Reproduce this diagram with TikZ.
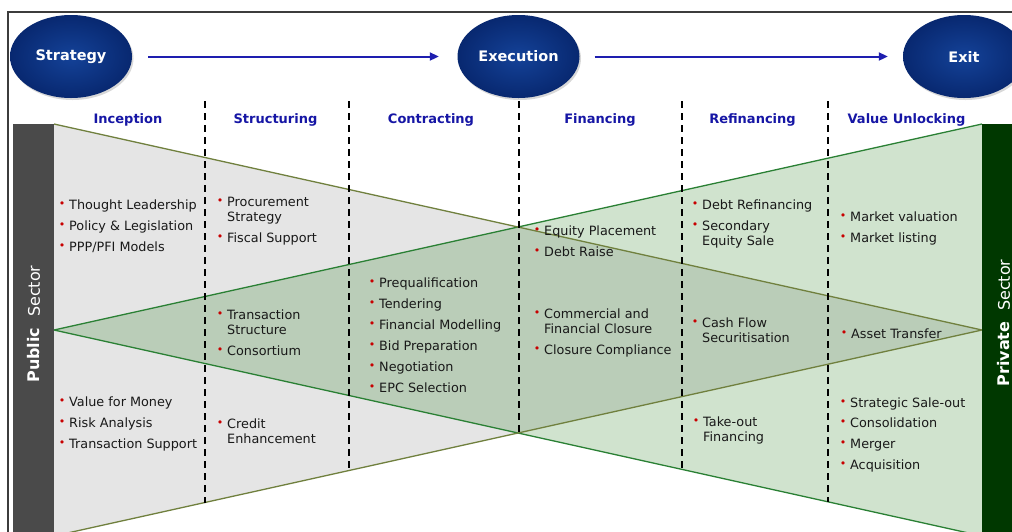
\documentclass[tikz,border=0pt]{standalone}
\usepackage{fontspec}
\setmainfont{DejaVu Sans}
\usetikzlibrary{shapes.geometric,arrows.meta,shadows}
\definecolor{hdrblue}{RGB}{22,22,165}
\definecolor{arrblue}{RGB}{30,30,175}
\definecolor{ellin}{RGB}{20,66,152}
\definecolor{ellout}{RGB}{8,40,112}
\definecolor{pubgray}{RGB}{74,74,74}
\definecolor{privgreen}{RGB}{0,56,0}
\definecolor{trigray}{RGB}{229,229,229}
\definecolor{trigreen}{RGB}{208,227,206}
\definecolor{trimix}{RGB}{186,205,184}
\definecolor{edgeolive}{RGB}{112,128,62}
\definecolor{edgegreen}{RGB}{42,128,52}
\definecolor{bulred}{RGB}{200,0,0}
\definecolor{txtblack}{RGB}{25,25,25}
\definecolor{framegray}{RGB}{60,60,60}
\newcommand{\bt}{\makebox[10.25pt][l]{\raisebox{1.2pt}{\textcolor{bulred}{\fontsize{11}{11}\selectfont •}}}}
\newcommand{\itm}[4]{\node[itemtxt] (#1) at (#2-3.25,#3) {\bt #4};}
\newcommand{\cnt}[4]{\node[itemtxt] (#1) at (#2+7,#3) {#4};}
\begin{document}
\begin{tikzpicture}[x=1pt,y=-1pt,
  hdr/.style={font=\fontsize{13}{15}\selectfont\bfseries, text=hdrblue, anchor=base, inner sep=0pt},
  itemtxt/.style={font=\fontsize{12.8}{15}\selectfont, text=txtblack, anchor=base west, inner sep=0pt},
  phase/.style={ellipse, minimum width=122pt, minimum height=83pt, inner sep=0pt,
    inner color=ellin, outer color=ellout, text=white,
    font=\fontsize{14.5}{16}\selectfont\bfseries,
    drop shadow={opacity=0.3, shadow xshift=1.5pt, shadow yshift=-2pt}},
  arr/.style={draw=arrblue, line width=2pt, -{Triangle[length=9pt,width=8pt]}},
  divider/.style={draw=black, line width=2pt, dash pattern=on 7pt off 5pt},
  sidetxt/.style={rotate=90, text=white, font=\fontsize{16}{18}\selectfont, inner sep=0pt}
]
\clip (0,0) rectangle (1012,531);
\fill[white] (0,0) rectangle (1012,531);
% triangles
\fill[trigray] (54,124) -- (982,330) -- (54,536) -- cycle;
\fill[trigreen] (982,124) -- (54,330) -- (982,536) -- cycle;
\fill[trimix] (54,330) -- (518,227) -- (982,330) -- (518,433) -- cycle;
\draw[edgegreen, line width=1.3pt] (982,124) -- (54,330) -- (982,536);
\draw[edgeolive, line width=1.3pt] (54,124) -- (982,330) -- (54,536);
% sidebars
\fill[pubgray] (13,124) rectangle (54,545);
\fill[privgreen] (982,124) rectangle (1030,545);
\node[sidetxt] (pub) at (34,324) {\textbf{Public}\hspace{0.35em} Sector};
\node[sidetxt] (priv) at (1004,323) {\textbf{Private}\hspace{0.35em} Sector};
% frame
\draw[framegray, line width=1.2pt] (8,545) -- (8,12) -- (1030,12);
% dividers
\foreach \x/\yb in {205/502.5, 349/470.5, 519/433, 682/469.5, 828/502}
  \draw[divider] (\x,101) -- (\x,\yb);
% headers
\node[hdr] (h1) at (128,123) {Inception};
\node[hdr] (h2) at (275.5,123) {Structuring};
\node[hdr] (h3) at (431,123) {Contracting};
\node[hdr] (h4) at (600,123) {Financing};
\node[hdr] (h5) at (752.5,123) {Refinancing};
\node[hdr] (h6) at (906.5,123) {Value Unlocking};
% Inception
\itm{a1}{62}{209}{Thought Leadership}
\itm{a2}{62}{230}{Policy \& Legislation}
\itm{a3}{62}{251}{PPP/PFI Models}
\itm{a4}{62}{406}{Value for Money}
\itm{a5}{62}{427}{Risk Analysis}
\itm{a6}{62}{448}{Transaction Support}
% Structuring
\itm{b1}{220}{206}{Procurement}
\cnt{b1c}{220}{221}{Strategy}
\itm{b2}{220}{242}{Fiscal Support}
\itm{b3}{220}{319}{Transaction}
\cnt{b3c}{220}{334}{Structure}
\itm{b4}{220}{355}{Consortium}
\itm{b5}{220}{428}{Credit}
\cnt{b5c}{220}{443}{Enhancement}
% Contracting
\itm{c1}{372}{287}{Prequalification}
\itm{c2}{372}{308}{Tendering}
\itm{c3}{372}{329}{Financial Modelling}
\itm{c4}{372}{350}{Bid Preparation}
\itm{c5}{372}{371}{Negotiation}
\itm{c6}{372}{392}{EPC Selection}
% Financing
\itm{d1}{537}{235}{Equity Placement}
\itm{d2}{537}{256}{Debt Raise}
\itm{d3}{537}{318}{Commercial and}
\cnt{d3c}{537}{333}{Financial Closure}
\itm{d4}{537}{354}{Closure Compliance}
% Refinancing
\itm{e1}{695}{209}{Debt Refinancing}
\itm{e2}{695}{230}{Secondary}
\cnt{e2c}{695}{245}{Equity Sale}
\itm{e3}{695}{327}{Cash Flow}
\cnt{e3c}{695}{342}{Securitisation}
\itm{e4}{696}{426}{Take-out}
\cnt{e4c}{696}{441}{Financing}
% Value Unlocking
\itm{f1}{843}{221}{Market valuation}
\itm{f2}{843}{242}{Market listing}
\itm{f3}{844}{338}{Asset Transfer}
\itm{f4}{843}{407}{Strategic Sale-out}
\itm{f5}{843}{427}{Consolidation}
\itm{f6}{843}{448}{Merger}
\itm{f7}{843}{469}{Acquisition}
% phases
\node[phase] (strategy) at (71,56.5) {Strategy};
\node[phase] (execution) at (518.5,56.5) {Execution};
\node[phase] (exit) at (964,56.5) {Exit};
\draw[arr, shorten <=16pt, shorten >=18.5pt] (strategy) -- (execution);
\draw[arr, shorten <=15pt, shorten >=15pt] (execution) -- (exit);
\end{tikzpicture}
\end{document}
